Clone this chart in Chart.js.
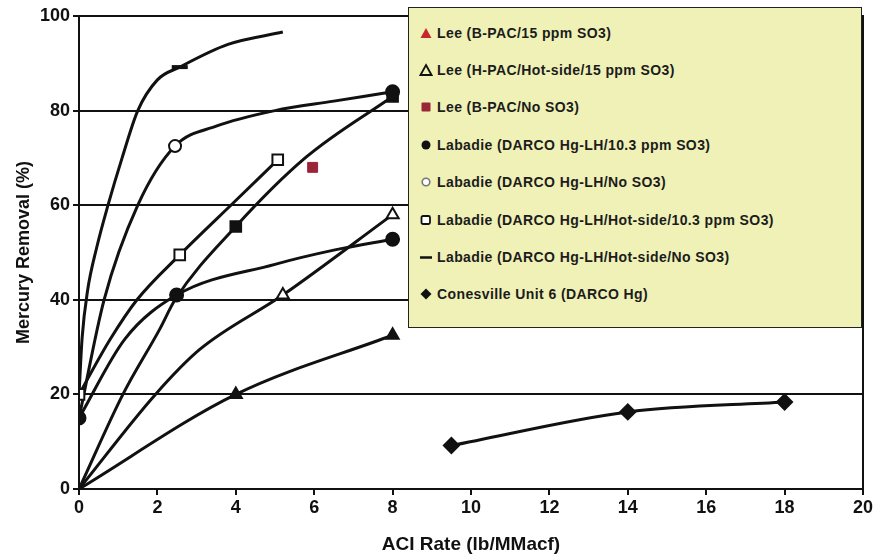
<!DOCTYPE html>
<html>
<head>
<meta charset="utf-8">
<script src="https://cdn.jsdelivr.net/npm/chart.js@4/dist/chart.umd.min.js"></script>
<style>
  body { margin: 0; background: #fff; }
  #wrap { position: relative; width: 875px; height: 556px; }
  #legend {
    position: absolute; left: 408px; top: 7px; width: 452px; height: 313px;
    background: #eff1b6; border: 1.5px solid #222;
    font: bold 14px "Liberation Sans", Arial, sans-serif; color: #1c1c1c;
    letter-spacing: 0.4px;
    padding-top: 6px; box-sizing: content-box;
  }
  #legend .item { display: flex; align-items: center; height: 37.4px; }
  #legend svg { width: 14px; height: 14px; margin-left: 10px; margin-right: 4px; flex: none; }
</style>
</head>
<body>
<div id="wrap">
  <canvas id="chart" width="875" height="556"></canvas>
  <div id="legend"></div>
</div>
<script>
// axis ticks
const xTicks = [0, 2, 4, 6, 8, 10, 12, 14, 16, 18, 20];
const yTicks = [0, 20, 40, 60, 80, 100];

// legend series (measured points)
const seriesNames = [
  "Lee (B-PAC/15 ppm SO3)",
  "Lee (H-PAC/Hot-side/15 ppm SO3)",
  "Lee (B-PAC/No SO3)",
  "Labadie (DARCO Hg-LH/10.3 ppm SO3)",
  "Labadie (DARCO Hg-LH/No SO3)",
  "Labadie (DARCO Hg-LH/Hot-side/10.3 ppm SO3)",
  "Labadie (DARCO Hg-LH/Hot-side/No SO3)",
  "Conesville Unit 6 (DARCO Hg)"
];
const leeBpacSo3X = [4, 8];          const leeBpacSo3Y = [20, 32.5];
const leeHpacX = [5.2, 8];           const leeHpacY = [41, 58];
const leeBpacNoX = [5.96];           const leeBpacNoY = [68];
const labSo3X = [0, 2.49, 8];        const labSo3Y = [15, 41, 52.8];
const labNoX = [2.45];               const labNoY = [72.5];
const labHotSo3X = [0, 2.57, 5.07];  const labHotSo3Y = [20, 49.5, 69.6];
const labHotNoX = [2.57];            const labHotNoY = [89.2];
const conesX = [9.5, 14, 18];        const conesY = [9.2, 16.3, 18.4];
// black markers on the unlabelled curve (the blob at x=8 hides the open circle)
const blackSqX = [4, 8];             const blackSqY = [55.5, 83];
const blobX = [8];                   const blobY = [84];

// trend curves
const curveHotNoX = [0, 0.08, 0.22, 0.45, 0.74, 1.1, 1.5, 2.0, 2.57, 3.8, 5.2];
const curveHotNoY = [20, 32, 42, 51, 60, 70, 80, 86.5, 89.2, 94, 96.6];
const curveNoX = [0, 0.64, 1.5, 2.45, 3.5, 5, 6.5, 8];
const curveNoY = [15, 40, 60, 72.5, 76.7, 80, 82, 84];
const curveHotSo3X = [0, 0.8, 1.48, 2.57, 4, 5.07];
const curveHotSo3Y = [20, 31.7, 40, 49.5, 61, 69.6];
const curveSo3X = [0, 1.17, 2.49, 5, 6.5, 8];
const curveSo3Y = [15, 31.7, 41, 47.5, 50.5, 52.8];
const curveSqX = [0, 1.12, 2.06, 2.45, 4, 5.8, 8];
const curveSqY = [0, 20, 33.8, 40, 55.5, 70.2, 83];
const curveHpacX = [0, 1.95, 3.08, 5.2, 8];
const curveHpacY = [0, 20, 29.5, 41, 58];
const curveBpacX = [0, 4, 8];
const curveBpacY = [0, 20, 32.5];
const curveConesX = [9.5, 14, 18];
const curveConesY = [9.2, 16.3, 18.4];

const pts = (xs, ys) => xs.map((x, i) => ({ x: x, y: ys[i] }));
const INK = "#111";
const FONT = "'Liberation Sans', Arial, sans-serif";

function curve(xs, ys) {
  return {
    data: pts(xs, ys), showLine: true, borderColor: INK, borderWidth: 3,
    pointRadius: 0, cubicInterpolationMode: "monotone", order: 2
  };
}
function marks(xs, ys, style, radius, fill, border, bw) {
  return {
    data: pts(xs, ys), showLine: false, pointStyle: style, pointRadius: radius,
    pointBackgroundColor: fill, pointBorderColor: border || INK,
    pointBorderWidth: bw == null ? 2 : bw, order: 1
  };
}

const datasets = [
  curve(curveHotNoX, curveHotNoY),
  curve(curveNoX, curveNoY),
  curve(curveHotSo3X, curveHotSo3Y),
  curve(curveSo3X, curveSo3Y),
  curve(curveSqX, curveSqY),
  curve(curveHpacX, curveHpacY),
  curve(curveBpacX, curveBpacY),
  curve(curveConesX, curveConesY),
  marks(leeBpacSo3X, leeBpacSo3Y, "triangle", 7, INK),
  marks(leeHpacX, leeHpacY, "triangle", 7, "#fff"),
  marks(leeBpacNoX, leeBpacNoY, "rect", 7, "#9a2438", "#9a2438", 1),
  marks(labSo3X, labSo3Y, "circle", 6.5, INK),
  marks(labNoX, labNoY, "circle", 6, "#fff"),
  marks(labHotSo3X, labHotSo3Y, "rect", 7.5, "#fff"),
  marks(labHotNoX, labHotNoY, "line", 8, INK, INK, 4),
  marks(conesX, conesY, "rectRot", 7.5, INK),
  marks(blackSqX, blackSqY, "rect", 7.5, INK),
  marks(blobX, blobY, "circle", 6.5, INK)
];

const frame = {
  id: "frame",
  afterDraw(chart) {
    const a = chart.chartArea, ctx = chart.ctx;
    ctx.save();
    ctx.strokeStyle = INK;
    ctx.lineWidth = 2;
    ctx.strokeRect(a.left, a.top, a.right - a.left, a.bottom - a.top);
    ctx.restore();
  }
};

new Chart(document.getElementById("chart"), {
  type: "scatter",
  data: { datasets: datasets },
  plugins: [frame],
  options: {
    responsive: false,
    animation: false,
    layout: { padding: { top: 16, right: 11, left: 0, bottom: 0 } },
    plugins: { legend: { display: false }, tooltip: { enabled: false } },
    scales: {
      x: {
        type: "linear", min: 0, max: 20,
        afterBuildTicks: s => { s.ticks = xTicks.map(v => ({ value: v })); },
        afterFit: s => { s.height = 67; },
        ticks: { color: INK, font: { family: FONT, size: 18, weight: "bold" }, padding: 2 },
        grid: { drawOnChartArea: false, tickLength: 6, color: INK, lineWidth: 2 },
        border: { color: INK, width: 2 },
        title: { display: true, text: "ACI Rate (lb/MMacf)", color: INK,
                 font: { family: FONT, size: 19, weight: "bold" }, padding: { top: 4, bottom: 0 } }
      },
      y: {
        min: 0, max: 100,
        afterBuildTicks: s => { s.ticks = yTicks.map(v => ({ value: v })); },
        afterFit: s => { s.width = 79; },
        ticks: { color: INK, font: { family: FONT, size: 18, weight: "bold" }, padding: 3 },
        grid: { color: INK, lineWidth: 2, tickLength: 6 },
        border: { color: INK, width: 2 },
        title: { display: true, text: "Mercury Removal (%)", color: INK,
                 font: { family: FONT, size: 18, weight: "bold" }, padding: { top: 13, bottom: 0 } }
      }
    }
  }
});

// legend box drawn as HTML inside the plot
const legendIcons = [
  '<polygon points="7,2 12.5,12 1.5,12" fill="#c8262e"/>',
  '<polygon points="7,2 12.5,12 1.5,12" fill="none" stroke="#111" stroke-width="1.8"/>',
  '<rect x="2.5" y="2.5" width="9" height="9" rx="1" fill="#9a2438"/>',
  '<circle cx="7" cy="7" r="4.5" fill="#111"/>',
  '<circle cx="7" cy="7" r="3.8" fill="#fff" stroke="#777" stroke-width="1.6"/>',
  '<rect x="2.5" y="3" width="8.5" height="8" rx="1.5" fill="#fff" stroke="#111" stroke-width="1.8"/>',
  '<line x1="1" y1="7.5" x2="13" y2="7.5" stroke="#111" stroke-width="2.5"/>',
  '<polygon points="7,1.5 12.5,7 7,12.5 1.5,7" fill="#111"/>'
];
const legendEl = document.getElementById("legend");
seriesNames.forEach((name, i) => {
  const row = document.createElement("div");
  row.className = "item";
  row.innerHTML = '<svg viewBox="0 0 14 14">' + legendIcons[i] + '</svg><span></span>';
  row.querySelector("span").textContent = name;
  legendEl.appendChild(row);
});
</script>
</body>
</html>
